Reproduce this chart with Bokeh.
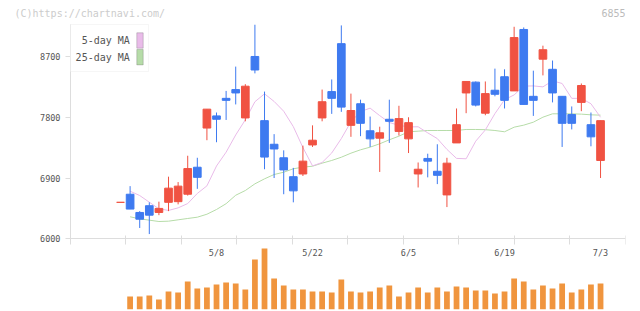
import numpy as np
from bokeh.plotting import figure
from bokeh.models import Range1d, LinearAxis, FixedTicker, Label, BoxAnnotation, ColumnDataSource
from bokeh.embed import file_html
from bokeh.resources import INLINE

# Daily prices for 6855 (trading days 4/19 - 7/3)
dates = ["4/19", "4/22", "4/23", "4/24", "4/25", "4/26", "4/30", "5/1", "5/2", "5/7",
         "5/8", "5/9", "5/10", "5/13", "5/14", "5/15", "5/16", "5/17", "5/20", "5/21",
         "5/22", "5/23", "5/24", "5/27", "5/28", "5/29", "5/30", "5/31", "6/3", "6/4",
         "6/5", "6/6", "6/7", "6/10", "6/11", "6/12", "6/13", "6/14", "6/17", "6/18",
         "6/19", "6/20", "6/21", "6/24", "6/25", "6/26", "6/27", "6/28", "7/1", "7/2",
         "7/3"]

opens = [6540, 6660, 6390, 6490, 6390, 6540, 6550, 6660, 7060, 7640,
         7820, 8080, 8210, 7790, 8700, 7750, 7400, 7200, 6920, 6960,
         7390, 7790, 8180, 8890, 7680, 8000, 7600, 7490, 7770, 7590,
         7480, 6960, 7190, 7000, 6650, 7420, 8160, 8320, 7860, 8200,
         8400, 8190, 9100, 8110, 8660, 8510, 8110, 7840, 8020, 7690,
         7160]
highs = [6540, 6780, 6410, 6540, 6550, 6920, 6840, 7230, 7200, 7920,
         7870, 8190, 8550, 8290, 9170, 8180, 7550, 7310, 7050, 7380,
         7680, 8210, 8360, 9160, 8150, 8060, 7810, 7660, 8060, 7970,
         7800, 7130, 7260, 7400, 7200, 7930, 8330, 8330, 8330, 8520,
         8510, 9140, 9130, 8490, 8860, 8640, 8110, 7960, 8300, 7870,
         7750]
lows = [6540, 6440, 6160, 6070, 6350, 6410, 6510, 6640, 6740, 7460,
        7430, 7760, 7990, 7740, 8450, 7030, 6900, 6660, 6540, 6930,
        7360, 7740, 7850, 7880, 7510, 7520, 7360, 6990, 7420, 7530,
        7270, 6760, 6910, 6810, 6470, 7420, 7860, 7960, 7830, 8110,
        7930, 8190, 7990, 7820, 8420, 8020, 7360, 7620, 7890, 7370,
        6900]
closes = [6540, 6440, 6290, 6350, 6450, 6750, 6780, 7040, 6910, 7920,
          7770, 8050, 8160, 8260, 8500, 7210, 7330, 7020, 6710, 7150,
          7460, 8030, 8080, 7950, 7900, 7710, 7480, 7570, 7740, 7780,
          7720, 7030, 7150, 6940, 7120, 7690, 8330, 7980, 8150, 8140,
          8050, 8980, 7990, 8050, 8800, 8160, 7710, 7710, 8270, 7510,
          7750]
# volume, thousand shares
volumes = [0, 130, 130, 140, 100, 180, 170, 280, 210, 220,
           250, 270, 260, 200, 500, 610, 310, 240, 200, 200,
           180, 180, 170, 300, 180, 170, 180, 220, 240, 130,
           170, 220, 170, 220, 180, 230, 220, 190, 190, 160,
           180, 310, 280, 200, 240, 210, 260, 170, 200, 250,
           260]
# moving averages as published (no value on the first day)
ma5 = [np.nan, 6705, 6641, 6542, 6444, 6420, 6458, 6522, 6672, 6784,
       7078, 7283, 7538, 7762, 8030, 8147, 8034, 7889, 7661, 7351,
       7080, 7130, 7271, 7484, 7733, 7884, 7935, 7824, 7722, 7681,
       7657, 7659, 7569, 7484, 7324, 7191, 7185, 7446, 7612, 7854,
       8059, 8131, 8261, 8264, 8250, 8340, 8300, 8080, 8080, 8000,
       7800]
ma25 = [np.nan, 6326, 6296, 6276, 6256, 6261, 6281, 6301, 6320, 6364,
        6434, 6520, 6645, 6715, 6814, 6888, 6952, 6986, 7037, 7061,
        7075, 7120, 7160, 7208, 7268, 7318, 7357, 7407, 7466, 7520,
        7585, 7594, 7604, 7604, 7604, 7604, 7619, 7619, 7616, 7604,
        7585, 7653, 7683, 7727, 7801, 7851, 7851, 7851, 7846, 7836,
        7831]
price_ticks = [6000, 6900, 7800, 8700]
price_top = 9174
label_every = 10

RED = "#f05242"
BLUE = "#3e7af0"
ORANGE = "#f0953e"
PINK = "#e9bbe9"
GREEN = "#b6dca8"
AXIS = "#dddddd"
MONO = "DejaVu Sans Mono"

idx = list(range(len(dates)))
up = [c >= o for o, c in zip(opens, closes)]
src = ColumnDataSource(dict(
    x=idx,
    open=opens, high=highs, low=lows, close=closes,
    top=[max(o, c) for o, c in zip(opens, closes)],
    bottom=[min(o, c) for o, c in zip(opens, closes)],
    color=[RED if u else BLUE for u in up],
    volume=volumes, ma5=ma5, ma25=ma25,
))

# the frame fills the canvas; the axes sit at fixed data locations inside it
x_lo, x_hi = -12.5, 52.6
axis_lo = -5.21
y_lo, y_hi = 4953, 9529

p = figure(width=640, height=311, x_range=Range1d(x_lo, x_hi), y_range=Range1d(y_lo, y_hi),
           output_backend="svg", toolbar_location=None,
           x_axis_location=None, y_axis_location=None,
           min_border_left=0, min_border_right=15, min_border_top=0, min_border_bottom=2)
p.outline_line_color = None
p.grid.visible = False
p.background_fill_color = "white"
p.border_fill_color = "white"
p.extra_y_ranges = {"vol": Range1d(0, 3090)}

# price axis
yaxis = LinearAxis(ticker=FixedTicker(ticks=price_ticks), bounds=(price_ticks[0], price_top),
                   fixed_location=axis_lo)
yaxis.axis_line_color = AXIS
yaxis.major_tick_line_color = AXIS
yaxis.minor_tick_line_color = None
yaxis.major_tick_out = 5
yaxis.major_tick_in = 0
yaxis.major_label_standoff = 5
yaxis.major_label_text_font = MONO
yaxis.major_label_text_font_size = "8.5px"
yaxis.major_label_text_color = "#555555"
p.add_layout(yaxis, "left")

# time axis line with evenly spaced ticks
xaxis = LinearAxis(ticker=FixedTicker(ticks=list(np.linspace(axis_lo, x_hi, 11))),
                   bounds=(axis_lo, x_hi), fixed_location=price_ticks[0])
xaxis.axis_line_color = AXIS
xaxis.major_tick_line_color = AXIS
xaxis.minor_tick_line_color = None
xaxis.major_tick_in = 3
xaxis.major_tick_out = 6
xaxis.major_label_text_color = None
p.add_layout(xaxis, "below")

# date labels every ten sessions
date_ticks = idx[label_every::label_every]
daxis = LinearAxis(ticker=FixedTicker(ticks=date_ticks), fixed_location=price_ticks[0],
                   major_label_overrides={t: dates[t] for t in date_ticks})
daxis.axis_line_color = None
daxis.major_tick_line_color = None
daxis.minor_tick_line_color = None
daxis.major_tick_in = 0
daxis.major_tick_out = 0
daxis.major_label_standoff = 9
daxis.major_label_text_font = MONO
daxis.major_label_text_font_size = "8.5px"
daxis.major_label_text_color = "#555555"
p.add_layout(daxis, "below")

# volume
p.vbar(x="x", width=0.6, top="volume", bottom=0, source=src, y_range_name="vol",
       fill_color=ORANGE, line_color=None)

# moving averages
p.line("x", "ma25", source=src, line_color=GREEN, line_width=1)
p.line("x", "ma5", source=src, line_color=PINK, line_width=1)

# candlesticks
p.segment(x0="x", y0="low", x1="x", y1="high", source=src, line_color="color", line_width=1)
p.vbar(x="x", width=0.8, top="top", bottom="bottom", source=src,
       fill_color="color", line_color="color", line_width=1)

# header texts
p.add_layout(Label(x=14, y=296.3, x_units="screen", y_units="screen",
                   text="(C)https://chartnavi.com/", text_font=MONO, text_font_size="10px",
                   text_color="#cccccc", text_baseline="middle", text_align="left"))
p.add_layout(Label(x=625, y=296.3, x_units="screen", y_units="screen",
                   text="6855", text_font=MONO, text_font_size="10px",
                   text_color="#bbbbbb", text_baseline="middle", text_align="right"))

# legend box
p.add_layout(BoxAnnotation(left=70, right=148, top=285, bottom=238,
                           left_units="screen", right_units="screen",
                           top_units="screen", bottom_units="screen",
                           fill_color="white", fill_alpha=1.0, line_color="#e0e0e0", line_width=1))
for txt, ypos, col in [("5-day MA", 269, PINK), ("25-day MA", 252.3, GREEN)]:
    p.add_layout(Label(x=129.3, y=ypos, x_units="screen", y_units="screen", text=txt,
                       text_font=MONO, text_font_size="10px", text_color="#555555",
                       text_baseline="middle", text_align="right"))
    p.add_layout(BoxAnnotation(left=136.3, right=142.7, top=ypos + 7.7, bottom=ypos - 7.7,
                               left_units="screen", right_units="screen",
                               top_units="screen", bottom_units="screen",
                               fill_color=col, fill_alpha=1.0, line_color="#666666", line_width=1))

open("out.html", "w").write(file_html(p, INLINE))
